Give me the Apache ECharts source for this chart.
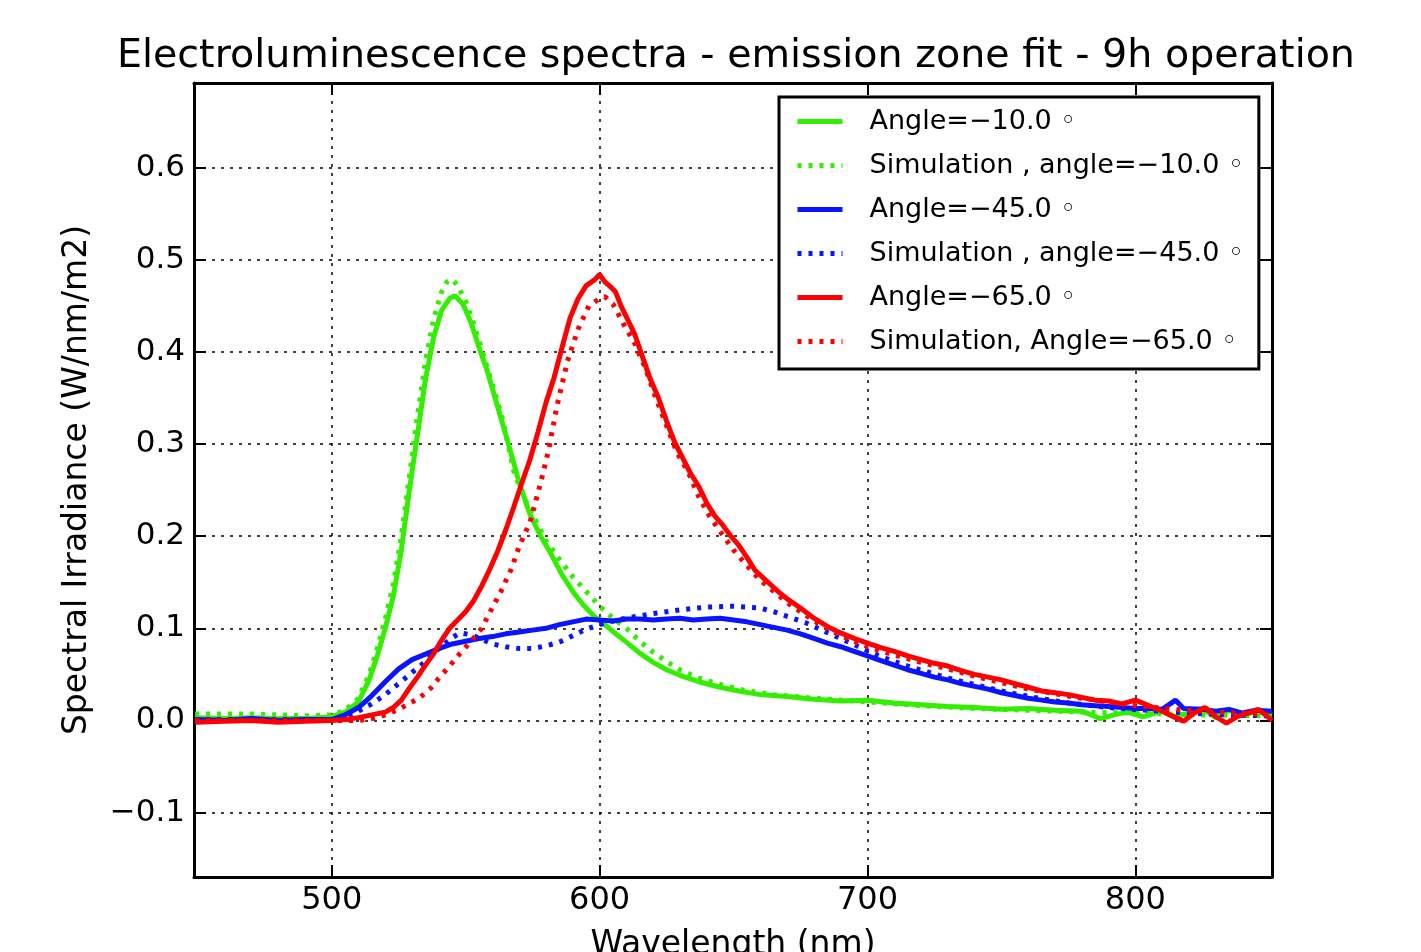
<!DOCTYPE html>
<html>
<head>
<meta charset="utf-8">
<title>Electroluminescence spectra</title>
<script src="https://cdn.jsdelivr.net/npm/echarts@6.0.0/dist/echarts.min.js"></script>
<style>
  html, body { margin: 0; padding: 0; background: #fff; }
  #chart { width: 1421px; height: 952px; }
</style>
</head>
<body>
<div id="chart"></div>
<script>
// wavelength (nm), irradiance (W/nm/m2)
var green_meas = [
  [449,0.003],[460,0.002],[470,0.003],[480,0.002],[490,0.002],[495,0.003],[500,0.004],[505,0.009],
  [510,0.02],[514,0.044],[517,0.07],[520,0.1],[523,0.135],[526,0.185],[529,0.25],[532,0.31],
  [535,0.37],[538,0.415],[541,0.445],[544,0.458],[546,0.461],[549,0.452],[552,0.432],[555,0.405],
  [558,0.38],[562,0.34],[566,0.3],[570,0.258],[574,0.224],[578,0.2],[582,0.18],[586,0.158],
  [590,0.14],[594,0.125],[598,0.113],[602,0.104],[606,0.094],[610,0.085],[615,0.073],[620,0.063],
  [625,0.055],[630,0.049],[637,0.042],[645,0.036],[652,0.032],[660,0.028],[670,0.026],[680,0.023],
  [690,0.021],[700,0.022],[710,0.019],[720,0.017],[730,0.015],[740,0.014],[750,0.012],[760,0.013],
  [770,0.011],[780,0.01],[787,0.002],[792,0.006],[797,0.009],[803,0.004],[810,0.01],[815,0.004],
  [820,0.008],[825,0.013],[830,0.003],[835,0.011],[840,0.005],[845,0.01],[851,0.006]
];
var green_sim = [
  [449,0.007],[460,0.007],[470,0.007],[480,0.006],[490,0.005],[500,0.006],[505,0.011],[510,0.024],
  [514,0.05],[517,0.078],[520,0.11],[523,0.148],[526,0.2],[529,0.265],[532,0.33],[535,0.39],
  [538,0.435],[541,0.465],[543,0.476],[545,0.479],[547,0.472],[550,0.455],[553,0.43],[556,0.403],
  [560,0.365],[564,0.325],[568,0.27],[572,0.24],[576,0.218],[580,0.195],[585,0.175],[590,0.156],
  [595,0.14],[600,0.124],[605,0.111],[610,0.1],[615,0.086],[620,0.074],[625,0.064],[630,0.055],
  [637,0.046],[645,0.039],[655,0.032],[665,0.028],[680,0.024],[700,0.02],[720,0.016],[740,0.013],
  [760,0.011],[780,0.009],[800,0.008],[825,0.006],[851,0.005]
];
var blue_meas = [
  [449,0.001],[460,0.0],[470,0.002],[480,0.0],[490,0.001],[500,0.001],[505,0.006],[510,0.014],
  [515,0.027],[520,0.042],[525,0.056],[530,0.066],[535,0.072],[540,0.078],[545,0.083],[550,0.086],
  [555,0.089],[560,0.091],[565,0.094],[570,0.096],[575,0.098],[580,0.1],[585,0.104],[590,0.107],
  [595,0.11],[600,0.109],[605,0.108],[610,0.11],[615,0.11],[620,0.109],[625,0.11],[630,0.111],
  [635,0.109],[640,0.11],[645,0.111],[650,0.109],[655,0.107],[660,0.104],[665,0.101],[670,0.098],
  [675,0.094],[680,0.089],[685,0.084],[690,0.08],[695,0.075],[700,0.07],[705,0.065],[710,0.06],
  [715,0.055],[720,0.051],[725,0.047],[730,0.044],[735,0.04],[740,0.037],[745,0.034],[750,0.03],
  [755,0.027],[760,0.024],[765,0.022],[770,0.02],[775,0.019],[780,0.017],[785,0.016],[790,0.015],
  [795,0.014],[800,0.013],[805,0.013],[810,0.012],[815,0.022],[818,0.013],[825,0.012],[830,0.01],
  [835,0.012],[840,0.008],[845,0.011],[851,0.01]
];
var blue_sim = [
  [449,0.001],[470,0.001],[490,0.001],[500,0.001],[505,0.004],[510,0.01],[515,0.018],[520,0.028],
  [525,0.04],[530,0.052],[535,0.064],[540,0.078],[545,0.09],[548,0.095],[552,0.093],[556,0.088],
  [560,0.083],[565,0.08],[570,0.078],[575,0.078],[580,0.081],[585,0.085],[590,0.092],[595,0.099],
  [600,0.104],[605,0.108],[610,0.111],[620,0.116],[630,0.12],[640,0.123],[650,0.124],[660,0.122],
  [665,0.118],[670,0.113],[677,0.106],[683,0.098],[690,0.089],[696,0.081],[702,0.073],[708,0.066],
  [715,0.059],[722,0.053],[730,0.046],[740,0.039],[750,0.032],[762,0.025],[775,0.019],[790,0.014],
  [805,0.011],[820,0.008],[835,0.006],[851,0.005]
];
var red_meas = [
  [449,-0.002],[460,-0.001],[470,0.0],[480,-0.002],[490,-0.001],[500,0.0],[505,0.001],[510,0.003],
  [515,0.006],[520,0.009],[523,0.014],[526,0.022],[529,0.035],[532,0.047],[535,0.06],[538,0.072],
  [541,0.087],[544,0.1],[547,0.109],[550,0.118],[553,0.13],[556,0.146],[559,0.164],[562,0.184],
  [565,0.207],[568,0.232],[571,0.258],[574,0.283],[577,0.313],[580,0.345],[583,0.372],[586,0.405],
  [589,0.437],[592,0.458],[595,0.472],[598,0.478],[600,0.484],[602,0.476],[604,0.471],[606,0.465],
  [608,0.45],[610,0.438],[613,0.42],[616,0.395],[619,0.37],[622,0.35],[625,0.325],[628,0.302],
  [631,0.285],[634,0.268],[637,0.254],[640,0.236],[643,0.222],[646,0.212],[649,0.2],[652,0.19],
  [655,0.177],[658,0.163],[661,0.155],[664,0.147],[667,0.139],[670,0.132],[675,0.122],[680,0.111],
  [685,0.102],[690,0.095],[695,0.089],[700,0.084],[705,0.079],[710,0.075],[715,0.07],[720,0.066],
  [725,0.062],[730,0.059],[735,0.054],[740,0.05],[745,0.047],[750,0.044],[755,0.04],[760,0.036],
  [765,0.032],[770,0.03],[775,0.028],[780,0.025],[785,0.022],[790,0.021],[795,0.018],[800,0.022],
  [805,0.016],[810,0.01],[815,0.003],[818,-0.001],[822,0.008],[826,0.014],[830,0.004],[834,-0.003],
  [838,0.004],[842,0.008],[846,0.012],[851,0.0]
];
var red_sim = [
  [449,0.0],[480,0.0],[510,0.0],[515,0.002],[520,0.006],[525,0.012],[530,0.02],[533,0.025],
  [537,0.035],[540,0.046],[544,0.059],[548,0.073],[552,0.086],[556,0.1],[559,0.117],[563,0.139],
  [567,0.164],[570,0.189],[574,0.215],[578,0.258],[581,0.294],[584,0.34],[588,0.39],[592,0.425],
  [596,0.45],[600,0.458],[602,0.46],[605,0.452],[609,0.43],[613,0.41],[617,0.383],[621,0.35],
  [625,0.32],[629,0.29],[633,0.27],[637,0.243],[641,0.222],[645,0.205],[650,0.185],[655,0.168],
  [660,0.152],[665,0.14],[670,0.128],[675,0.118],[680,0.108],[690,0.092],[700,0.08],[710,0.071],
  [720,0.063],[730,0.056],[740,0.048],[750,0.041],[760,0.034],[770,0.029],[780,0.024],[790,0.02],
  [800,0.016],[815,0.012],[830,0.009],[851,0.006]
];

var seriesNames = [
  'Angle=\u221210.0 \u25e6',
  'Simulation , angle=\u221210.0 \u25e6',
  'Angle=\u221245.0 \u25e6',
  'Simulation , angle=\u221245.0 \u25e6',
  'Angle=\u221265.0 \u25e6',
  'Simulation, Angle=\u221265.0 \u25e6'
];
var xTicks = [500, 600, 700, 800];
var yTicks = [-0.1, 0.0, 0.1, 0.2, 0.3, 0.4, 0.5, 0.6];

var GREEN = '#33ee00', BLUE = '#0a14ff', RED = '#ff0000';
var FONT = 'DejaVu Sans';

function line(name, data, color, dotted) {
  return {
    name: name,
    type: 'line',
    data: data,
    symbol: 'none',
    smooth: false,
    animation: false,
    lineStyle: dotted
      ? { color: color, width: 5, type: [4, 7] }
      : { color: color, width: 5 },
    itemStyle: { color: color }
  };
}

var frame = { show: true, onZero: false, lineStyle: { color: '#000', width: 3 } };
var grid = { show: true, lineStyle: { color: '#000', width: 1.5, type: [3, 6] } };

var myChart = echarts.init(document.getElementById('chart'));
var option = {
  backgroundColor: '#fff',
  animation: false,
  textStyle: { fontFamily: FONT },
  title: {
    text: 'Electroluminescence spectra - emission zone fit - 9h operation',
    left: 112,
    top: 32,
    textStyle: { fontFamily: FONT, fontSize: 39.6, fontWeight: 'normal', color: '#000' }
  },
  grid: { left: 194, right: 149, top: 83, bottom: 75, outerBoundsMode: 'none' },
  legend: {
    orient: 'vertical',
    left: 779,
    top: 97,
    padding: [11, 15, 14, 16],
    itemGap: 17,
    itemWidth: 45,
    itemHeight: 20,
    backgroundColor: '#fff',
    borderColor: '#000',
    borderWidth: 3,
    borderRadius: 0,
    itemStyle: { opacity: 0 },
    lineStyle: { width: 5 },
    data: seriesNames,
    textStyle: { fontFamily: FONT, fontSize: 27, color: '#000', padding: [0, 0, 0, 22] }
  },
  xAxis: [{
    type: 'value',
    min: 448.6,
    max: 851,
    name: 'Wavelength (nm)',
    nameLocation: 'middle',
    nameGap: 52,
    nameTextStyle: { fontFamily: FONT, fontSize: 33, color: '#000' },
    axisLine: frame,
    axisTick: { show: true, inside: true, length: 12, customValues: xTicks, lineStyle: { color: '#000', width: 2 } },
    axisLabel: { customValues: xTicks, fontFamily: FONT, fontSize: 32, color: '#000', margin: 8 },
    splitLine: grid
  }, {
    type: 'value',
    position: 'top',
    min: 448.6,
    max: 851,
    axisLine: frame,
    axisTick: { show: true, inside: true, length: 12, customValues: xTicks, lineStyle: { color: '#000', width: 2 } },
    axisLabel: { show: false },
    splitLine: { show: false }
  }],
  yAxis: [{
    type: 'value',
    min: -0.17,
    max: 0.692,
    name: 'Spectral Irradiance (W/nm/m2)',
    nameLocation: 'middle',
    nameGap: 100,
    nameTextStyle: { fontFamily: FONT, fontSize: 33, color: '#000' },
    axisLine: frame,
    axisTick: { show: true, inside: true, length: 12, customValues: yTicks, lineStyle: { color: '#000', width: 2 } },
    axisLabel: {
      customValues: yTicks,
      fontFamily: FONT, fontSize: 31, color: '#000', margin: 9,
      formatter: function (v) {
        return v < 0 ? '\u2212' + Math.abs(v).toFixed(1) : v.toFixed(1);
      }
    },
    splitLine: grid
  }, {
    type: 'value',
    position: 'right',
    min: -0.17,
    max: 0.692,
    axisLine: frame,
    axisTick: { show: true, inside: true, length: 12, customValues: yTicks, lineStyle: { color: '#000', width: 2 } },
    axisLabel: { show: false },
    splitLine: { show: false }
  }],
  series: [
    line(seriesNames[0], green_meas, GREEN, false),
    line(seriesNames[1], green_sim, GREEN, true),
    line(seriesNames[2], blue_meas, BLUE, false),
    line(seriesNames[3], blue_sim, BLUE, true),
    line(seriesNames[4], red_meas, RED, false),
    line(seriesNames[5], red_sim, RED, true)
  ]
};

myChart.setOption(option);
</script>
</body>
</html>
